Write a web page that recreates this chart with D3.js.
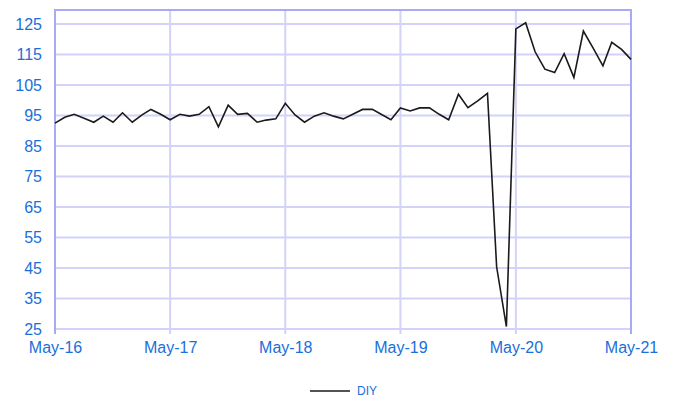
<!DOCTYPE html>
<html><head><meta charset="utf-8">
<script src="https://cdn.jsdelivr.net/npm/d3@7"></script>
<style>body{margin:0;background:#fff}svg{display:block}</style>
</head><body>
<svg id="c" width="673" height="400"></svg>
<script>
const startMonth = "2016-05";
const seriesName = "DIY";
const values = [92.5,94.4,95.4,94.1,92.8,94.8,92.8,95.9,92.8,95.2,97.0,95.4,
  93.6,95.4,94.8,95.4,97.9,91.3,98.4,95.4,95.7,92.8,93.5,93.9,
  99.0,95.2,92.8,94.8,95.9,94.8,93.9,95.4,97.0,97.0,95.4,93.6,
  97.5,96.5,97.5,97.5,95.4,93.6,102.0,97.6,99.8,102.3,45.4,25.8,
  123.4,125.4,115.9,110.2,109.1,115.3,107.5,122.7,117.1,111.3,119.0,116.7,113.4];
const yTicks = [25,35,45,55,65,75,85,95,105,115,125];
const xTickLabels = ["May-16","May-17","May-18","May-19","May-20","May-21"];

const svg = d3.select("#c");
const m = {l:55, r:631, t:10, b:329};
const t0 = d3.timeParse("%Y-%m")(startMonth);
const dates = values.map((v,i)=>d3.timeMonth.offset(t0,i));
const x = d3.scaleTime().domain([dates[0], dates[dates.length-1]]).range([m.l, m.r]);
const y = d3.scaleLinear().domain([25,129.6]).range([m.b, m.t]);
const xTickDates = xTickLabels.map((s,i)=>d3.timeYear.offset(t0,i));

const grid = "#d2d2fb", border = "#a9a9f5", blue = "#1a6fdb";
const font = "16px 'Liberation Sans', Arial, sans-serif";
// horizontal grid
svg.append("g").selectAll("line").data(yTicks).join("line")
  .attr("x1",m.l).attr("x2",m.r).attr("y1",d=>y(d)).attr("y2",d=>y(d))
  .attr("stroke",grid).attr("stroke-width",2);
// vertical grid
svg.append("g").selectAll("line").data(xTickDates).join("line")
  .attr("x1",d=>x(d)).attr("x2",d=>x(d)).attr("y1",m.t).attr("y2",m.b+5)
  .attr("stroke",grid).attr("stroke-width",2);
// border
svg.append("path").attr("d",`M${m.l},${m.b+5}V${m.t}H${m.r}V${m.b+5}`)
  .attr("fill","none").attr("stroke",border).attr("stroke-width",2);

// axes labels
const yAxis = d3.axisLeft(y).tickValues(yTicks).tickSize(0).tickPadding(13);
const gy = svg.append("g").attr("transform",`translate(${m.l},0)`).call(yAxis);
gy.select(".domain").remove();
gy.selectAll("text").attr("fill",blue).style("font",font);

const xAxis = d3.axisBottom(x).tickValues(xTickDates).tickFormat((d,i)=>xTickLabels[i]).tickSize(0).tickPadding(13);
const gx = svg.append("g").attr("transform",`translate(0,${m.b})`).call(xAxis);
gx.select(".domain").remove();
gx.selectAll("text").attr("fill",blue).style("font",font);

// line
const line = d3.line().x((d,i)=>x(dates[i])).y(d=>y(d));
svg.append("path").datum(values).attr("d",line).attr("fill","none")
  .attr("stroke","#1a1a1a").attr("stroke-width",1.6).attr("stroke-linejoin","miter");

// legend
const lg = svg.append("g");
lg.append("line").attr("x1",310).attr("x2",350).attr("y1",391).attr("y2",391)
  .attr("stroke","#1a1a1a").attr("stroke-width",1.6);
lg.append("text").attr("x",357).attr("y",395).text(seriesName)
  .attr("fill",blue).style("font","12px 'Liberation Sans', Arial, sans-serif");
</script>
</body></html>
